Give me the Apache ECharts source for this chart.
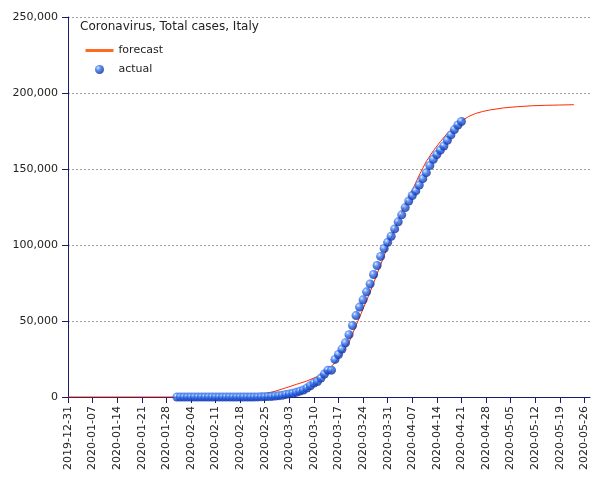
<!DOCTYPE html>
<html><head><meta charset="utf-8">
<script src="https://cdn.jsdelivr.net/npm/echarts@6/dist/echarts.min.js"></script>
<style>html,body{margin:0;padding:0;background:#fff}#c{width:605px;height:480px}</style>
</head><body><div id="c"></div>
<script>
const tickLabels = ['2019-12-31','2020-01-07','2020-01-14','2020-01-21','2020-01-28','2020-02-04','2020-02-11','2020-02-18','2020-02-25','2020-03-03','2020-03-10','2020-03-17','2020-03-24','2020-03-31','2020-04-07','2020-04-14','2020-04-21','2020-04-28','2020-05-05','2020-05-12','2020-05-19','2020-05-26'];
const yTicks = [0, 50000, 100000, 150000, 200000, 250000];
const actualStart = '2020-01-31';
const actualValues = [2,2,2,2,2,2,2,
  3,3,3,3,3,3,3,3,3,3,3,3,3,3,3,
  20,79,152,229,322,400,650,888,1128,1694,2036,2502,3089,3858,4636,5883,7375,9172,10149,12462,15113,17660,17660,
  24747,27980,31506,35713,41035,47021,53578,59138,63927,69176,74386,80589,86498,92472,97689,101739,105792,110574,
  115242,119827,124632,128948,132547,135586,139422,143626,147577,152271,156363,159516,162488,165155,168941,172434,
  175925,178972,181228];
const forecastDates = ['2019-12-31','2020-01-30','2020-02-09','2020-02-14','2020-02-19','2020-02-22','2020-02-25','2020-02-28','2020-03-02','2020-03-05','2020-03-08','2020-03-11','2020-03-14','2020-03-16','2020-03-18','2020-03-20','2020-03-22','2020-03-24','2020-03-26','2020-03-28','2020-03-30','2020-04-01','2020-04-03','2020-04-05','2020-04-07','2020-04-09','2020-04-11','2020-04-13','2020-04-15','2020-04-17','2020-04-19','2020-04-21','2020-04-23','2020-04-25','2020-04-27','2020-04-29','2020-05-03','2020-05-07','2020-05-11','2020-05-15','2020-05-19','2020-05-23'];
const forecastValues = [0,0,50,200,600,1200,2200,3800,6000,8300,10500,13500,18000,22500,28500,36000,47000,58000,69000,81000,93000,105000,116000,127000,136000,146000,155000,162000,168000,173500,177500,181500,184500,186500,187800,188800,190200,191000,191600,191900,192100,192300];

const DAY = 86400000;
const t = s => Date.parse(s + 'T00:00:00Z');
const xMin = t(tickLabels[0]);
const xMax = xMin + 148.6 * DAY;
const tickValues = tickLabels.map(t);
const actualData = actualValues.map((v, i) => [t(actualStart) + i * DAY, v]);
const forecastData = forecastDates.map((d, i) => [t(d), forecastValues[i]]);
const pad = n => String(n).padStart(2, '0');
const fmtDate = v => { const d = new Date(v); return d.getUTCFullYear() + '-' + pad(d.getUTCMonth() + 1) + '-' + pad(d.getUTCDate()); };
const FONT = 'DejaVu Sans';
const axisColor = '#1c1c6e';
const ball = {type: 'radial', x: 0.35, y: 0.32, r: 0.72, colorStops: [
  {offset: 0, color: '#f4f9ff'}, {offset: 0.15, color: '#7fb2ff'},
  {offset: 0.45, color: '#2b66e6'}, {offset: 0.8, color: '#1440b8'}, {offset: 1, color: '#0a2a86'}]};

const chart = echarts.init(document.getElementById('c'), null, {renderer: 'canvas'});
chart.setOption({
  animation: false,
  backgroundColor: '#ffffff',
  title: {
    text: 'Coronavirus, Total cases, Italy', left: 80, top: 21, padding: 0,
    textStyle: {fontFamily: FONT, fontSize: 12, fontWeight: 'normal', color: '#222'}
  },
  legend: {
    orient: 'vertical', left: 84, top: 45, padding: 0,
    itemWidth: 28, itemHeight: 9, itemGap: 8,
    textStyle: {fontFamily: FONT, fontSize: 11, color: '#222'},
    data: [
      {name: 'forecast', lineStyle: {color: '#ff6a22', width: 3}, itemStyle: {opacity: 0}},
      {name: 'actual'}
    ]
  },
  grid: {left: 68, right: 15, top: 17, bottom: 83, containLabel: false},
  xAxis: {
    type: 'value', min: xMin, max: xMax,
    axisLine: {onZero: false, lineStyle: {color: axisColor, width: 1}},
    axisTick: {show: true, length: 6, customValues: tickValues, lineStyle: {color: axisColor}},
    axisLabel: {customValues: tickValues, formatter: fmtDate, rotate: 90, margin: 9,
      fontFamily: FONT, fontSize: 11, color: '#222'},
    splitLine: {show: false}
  },
  yAxis: {
    type: 'value', min: yTicks[0], max: yTicks[yTicks.length - 1], interval: 50000,
    axisLine: {show: true, lineStyle: {color: axisColor, width: 1}},
    axisTick: {show: true, length: 6, lineStyle: {color: axisColor}},
    axisLabel: {margin: 10, fontFamily: FONT, fontSize: 11, color: '#222',
      formatter: v => v.toLocaleString('en-US')},
    splitLine: {show: true, lineStyle: {color: '#a0a0a0', type: [2, 2], width: 1}}
  },
  series: [
    {
      name: 'forecast', type: 'line', data: forecastData, showSymbol: false, symbol: 'none',
      lineStyle: {color: '#ff2a00', width: 1}, z: 3
    },
    {
      name: 'actual', type: 'scatter', data: actualData, symbol: 'circle', symbolSize: 9, z: 4,
      itemStyle: {color: ball}
    }
  ]
});
</script></body></html>
